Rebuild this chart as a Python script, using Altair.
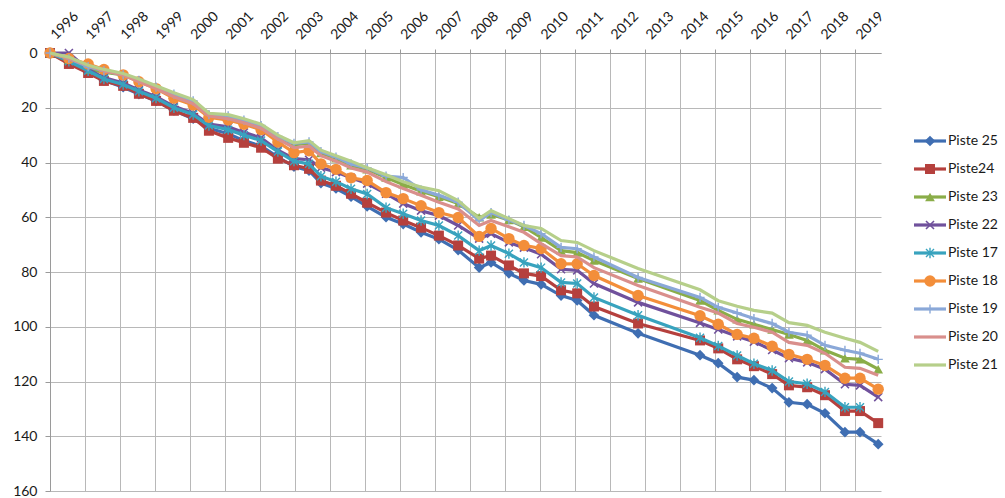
import altair as alt
import pandas as pd

# ---------------- data ----------------
dates = [1996.0, 1996.54, 1997.09, 1997.54, 1998.09, 1998.54, 1999.03, 1999.54,
         2000.09, 2000.54, 2001.09, 2001.54, 2002.03, 2002.51, 2002.97, 2003.40,
         2003.74, 2004.17, 2004.60, 2005.06, 2005.60, 2006.09, 2006.60, 2007.11,
         2007.66, 2008.26, 2008.60, 2009.11, 2009.54, 2010.03, 2010.60, 2011.06,
         2011.54, 2012.80, 2014.57, 2015.09, 2015.63, 2016.11, 2016.63, 2017.11,
         2017.63, 2018.14, 2018.71, 2019.14, 2019.66]

piste25 = [0, 3.5, 7, 10, 12.5, 15, 17.5, 21, 24, 27.5, 29.5, 32, 34, 38, 41.5, 43,
           47.5, 49.5, 52.5, 56, 60, 62.5, 65.5, 68, 72, 78.4, 76.5, 80.5, 83.1, 84.5,
           88.6, 90.4, 95.8, 102.4, 110.4, 113.3, 118.4, 119.5, 122.4, 127.6, 128.3,
           131.6, 138.5, 138.5, 142.9]
piste24 = [0, 4, 7.3, 10.2, 12, 14.9, 17.5, 21.1, 23.7, 28.4, 31, 32.8, 34.6, 38.6,
           41, 42.3, 46.6, 48.5, 51.4, 54.7, 58.3, 61.2, 63.8, 66.7, 70.3, 75.1, 74,
           77.6, 80.5, 81.5, 86.7, 87.8, 92.6, 98.8, 105, 107.9, 111.9, 114.4, 117.3,
           121.4, 122.1, 125, 130.8, 130.8, 135.2]
piste23 = [0, 2.5, 6, 7, 8, 10, 12.5, 15.5, 18, 22.5, 23.5, 25, 27, 31, 33.5, 33,
           36.5, 38.5, 41, 42.5, 45.5, 48, 50.5, 52.5, 55, 60, 59, 61, 63.5, 67.4,
           72.2, 72.9, 75.8, 82.4, 90.4, 94, 97.3, 99.1, 101, 102.8, 105, 108.6,
           111.5, 111.9, 115.5]
piste22 = [0, 0, 6, 9, 11, 13.5, 16, 19.5, 22, 26, 27, 29, 31, 35.5, 38.6, 39, 41.9,
           43.5, 45.6, 47.7, 51.4, 55, 57.6, 59.4, 63, 67.8, 66, 69.2, 71.1, 73.5, 79,
           79.4, 84.2, 91.1, 98.6, 101, 103.5, 105.5, 108.5, 111.5, 113, 115.5, 121,
           121.4, 125.7]
piste17 = [0, 3, 6.5, 9.5, 11.5, 14, 16.5, 20, 22.5, 26.5, 28, 30, 32, 36, 39.5,
           40.5, 45, 47, 49.6, 51.5, 56.5, 58.7, 61.2, 63, 66.7, 72.2, 70.3, 73.3,
           76.5, 78.4, 83.8, 84.2, 89.3, 95.8, 104, 107, 110.5, 113.5, 116, 120,
           120.8, 123.8, 129.4, 129.4, None]
piste18 = [0, 2, 4, 6, 8, 10.5, 13, 16.5, 19, 23.5, 24.5, 26, 28, 32.5, 36.4, 35.7,
           40.5, 42.5, 45.6, 46.6, 51, 53.2, 55.8, 58.3, 60.1, 67, 64.1, 67.8, 70.3,
           71.4, 77, 77, 81.3, 88.6, 96, 99.1, 102.8, 104.2, 107.1, 110.1, 111.9,
           114.1, 118.8, 118.8, 122.8]
piste19 = [0, 2, 5, 6.5, 8, 10, 12.5, 15, 17.5, 22.5, 23, 24.5, 26.5, 30.5, 33,
           32.5, 36, 38, 40.5, 42, 45, 45.5, 50, 52, 54.5, 61.2, 58.3, 61, 63, 66,
           71, 71.5, 74.5, 82, 89.3, 92.9, 95, 97, 98.8, 102, 103.1, 106.8, 108.6,
           109.7, 111.9]
piste20 = [0, 2, 4.5, 6.5, 8, 10.5, 13, 16, 18.5, 23, 24, 25.5, 27.5, 31.5, 34.6,
           34, 37.5, 39.5, 42, 43.5, 47, 49.5, 52, 54.5, 57, 63, 61.2, 63.5, 65.5,
           69.6, 74, 74.5, 78.4, 84.9, 92.9, 95, 98.8, 100.2, 102, 105.7, 106.8,
           109.7, 114.8, 115.2, 117.7]
piste21 = [0, 1.5, 4.5, 6, 7.5, 9.5, 12, 14.5, 17, 22, 22.5, 24, 26, 30, 32.8, 32,
           35.5, 37.5, 39.5, 41.9, 44.5, 47, 49, 50.3, 53.9, 60.5, 57.6, 60.5, 63,
           64.1, 68.5, 69.2, 72.2, 78.7, 86.5, 90.5, 92.5, 94, 95, 98.5, 99.5, 102,
           104.2, 105.7, 109]

series_names = ["Piste 25", "Piste24", "Piste 23", "Piste 22", "Piste 17",
                "Piste 18", "Piste 19", "Piste 20", "Piste 21"]
series_values = [piste25, piste24, piste23, piste22, piste17,
                 piste18, piste19, piste20, piste21]
series_colors = ["#3F6EB2", "#B5403D", "#8AAD48", "#70519C", "#38A3BE",
                 "#F38E3A", "#8AA8D8", "#D98F8C", "#B6CF8A"]

year_ticks = list(range(1996, 2020))
depth_ticks = [0, 20, 40, 60, 80, 100, 120, 140, 160]

# ---------------- styles ----------------
FONT = "Lato"
X_PATH = "M-1,-1L1,1M1,-1L-1,1"
STAR_PATH = "M-1,-1L1,1M1,-1L-1,1M0,-1.3L0,1.3"
PLUS_PATH = "M-1.3,0L1.3,0M0,-1.3L0,1.3"
marker_styles = {
    "Piste 25": dict(shape="diamond", filled=True, size=115),
    "Piste24": dict(shape="square", filled=True, size=100),
    "Piste 23": dict(shape="triangle-up", filled=True, size=95),
    "Piste 22": dict(shape=X_PATH, filled=False, size=64, strokeWidth=1.6),
    "Piste 17": dict(shape=STAR_PATH, filled=False, size=64, strokeWidth=1.4),
    "Piste 18": dict(shape="circle", filled=True, size=130),
    "Piste 19": dict(shape=PLUS_PATH, filled=False, size=50, strokeWidth=1.4),
}

rows = []
for name, vals in zip(series_names, series_values):
    for d, v in zip(dates, vals):
        if v is not None:
            rows.append({"series": name, "date": d, "depth": v})
df = pd.DataFrame(rows)

x_scale = alt.Scale(domain=[1996, 2019.74], nice=False, zero=False)
y_scale = alt.Scale(domain=[0, 160], reverse=True, nice=False, zero=False)
x_axis = alt.Axis(orient="top", values=year_ticks, format="d", title=None,
                  labelAngle=-45, labelAlign="left", labelBaseline="middle",
                  labelPadding=12, labelOffset=3, tickSize=4, labelFontSize=14,
                  grid=True, labelOverlap=False)
y_axis = alt.Axis(orient="left", values=depth_ticks, format="d", title=None,
                  labelPadding=8, tickSize=5, labelFontSize=14, grid=True)

enc = dict(x=alt.X("date:Q", scale=x_scale, axis=x_axis),
           y=alt.Y("depth:Q", scale=y_scale, axis=y_axis))

layers = []
for name, color in zip(series_names, series_colors):
    sub = alt.Chart(df).transform_filter(alt.datum.series == name)
    layers.append(sub.mark_line(color=color, strokeWidth=3.2).encode(**enc))
    if name in marker_styles:
        layers.append(sub.mark_point(color=color, opacity=1,
                                     **marker_styles[name]).encode(**enc))
main = alt.layer(*layers).properties(width=831, height=438)

# ---------------- legend panel ----------------
leg_df = pd.DataFrame({"series": series_names, "idx": list(range(len(series_names)))})
lx = alt.Scale(domain=[0, 2.5], nice=False, zero=False)
ly = alt.Scale(domain=[-3.143, 12.5], reverse=True, nice=False, zero=False)
ly_enc = alt.Y("idx:Q", scale=ly, axis=None)
leg_layers = []
for name, color in zip(series_names, series_colors):
    s = alt.Chart(leg_df).transform_filter(alt.datum.series == name)
    leg_layers.append(s.mark_rule(color=color, strokeWidth=3.2).encode(
        x=alt.XDatum(0, scale=lx, axis=None), x2=alt.X2Datum(1), y=ly_enc))
    if name in marker_styles:
        leg_layers.append(s.mark_point(color=color, opacity=1,
                                       **marker_styles[name]).encode(
            x=alt.XDatum(0.5, scale=lx, axis=None), y=ly_enc))
    leg_layers.append(s.mark_text(align="left", baseline="middle", font=FONT,
                                  fontSize=14, color="#1a1a1a").encode(
        x=alt.XDatum(1.06, scale=lx, axis=None), y=ly_enc, text="series:N"))
legend = alt.layer(*leg_layers).properties(width=80, height=438)

chart = alt.hconcat(main, legend, spacing=24).properties(
    padding={"left": 12, "top": 8, "right": 0, "bottom": 0},
    background="white",
).configure_view(stroke="transparent").configure_axis(
    labelFont=FONT, labelColor="#1a1a1a", gridColor="#b8b8b8", gridWidth=1,
    domainColor="#9a9a9a", tickColor="#9a9a9a", domainWidth=1,
)

chart.save("out.html", embed_options={"renderer": "svg", "actions": False})
